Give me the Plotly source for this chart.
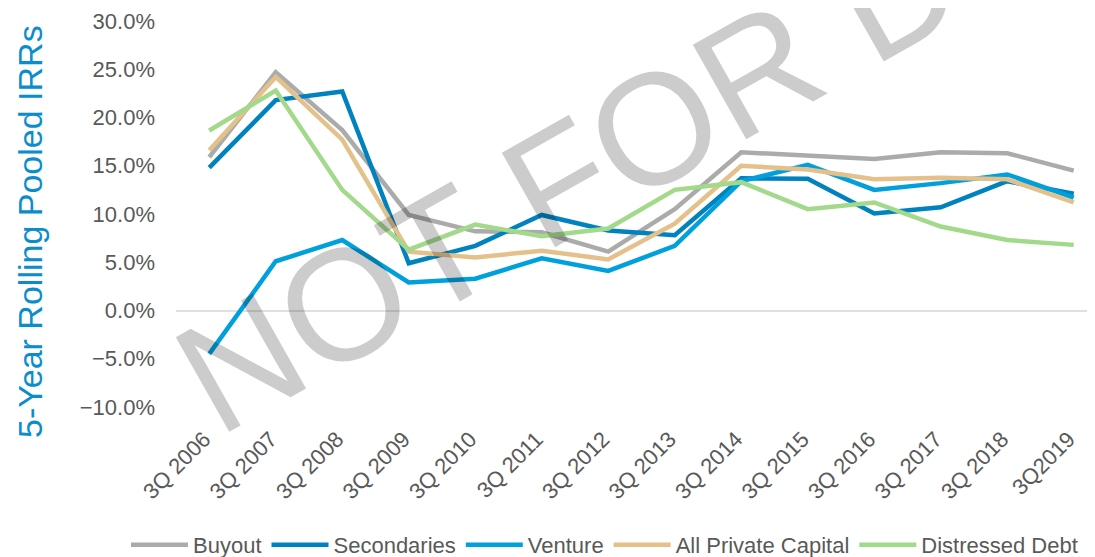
import plotly.graph_objects as go

categories = ["3Q 2006", "3Q 2007", "3Q 2008", "3Q 2009", "3Q 2010", "3Q 2011", "3Q 2012",
              "3Q 2013", "3Q 2014", "3Q 2015", "3Q 2016", "3Q 2017", "3Q 2018", "3Q2019"]

buyout = [15.9, 24.7, 18.7, 9.9, 8.2, 8.1, 6.1, 10.5, 16.4, 16.1, 15.7, 16.4, 16.3, 14.5]
secondaries = [14.8, 21.8, 22.7, 4.9, 6.7, 9.9, 8.3, 7.8, 13.7, 13.65, 10.05, 10.7, 13.4, 12.1]
venture = [-4.5, 5.1, 7.3, 2.9, 3.3, 5.4, 4.1, 6.7, 13.4, 15.1, 12.5, 13.2, 14.1, 11.7]
all_private_capital = [16.6, 24.2, 17.7, 6.1, 5.5, 6.2, 5.3, 9.0, 15.0, 14.6, 13.6, 13.75, 13.6, 11.2]
distressed_debt = [18.65, 22.8, 12.5, 6.3, 8.9, 7.7, 8.5, 12.5, 13.3, 10.5, 11.2, 8.7, 7.3, 6.8]

series = [
    ("Buyout", buyout, "#ABABAB"),
    ("Secondaries", secondaries, "#0082BF"),
    ("Venture", venture, "#00A0DD"),
    ("All Private Capital", all_private_capital, "#E4C08A"),
    ("Distressed Debt", distressed_debt, "#A2D98A"),
]

FONT = "Liberation Sans, Arial, sans-serif"
OFF = 8  # page body margin

fig = go.Figure()
for name, vals, color in series:
    fig.add_trace(go.Scatter(x=categories, y=vals, name=name, mode="lines",
                             line=dict(color=color, width=4.5)))

W, H = 1095 - OFF, 557 - OFF
L, T, B = 176 - OFF, 21 - OFF, 150
plot_w, plot_h = W - L, H - T - B
plot_bottom = H - B


def px_to_paper(px, py):
    return (px - OFF - L) / plot_w, (plot_bottom - (py - OFF)) / plot_h


# watermark
wx, wy = px_to_paper(1003, -69)
fig.add_annotation(text="NOT FOR DISTRIBUTION", xref="paper", yref="paper",
                   x=wx, y=wy, xanchor="center", yanchor="middle", showarrow=False,
                   textangle=-29.5,
                   font=dict(family=FONT, size=158, color="rgba(0,0,0,0.2)"))

# y-axis title
tx, ty = px_to_paper(30, 232)
fig.add_annotation(text="5-Year Rolling Pooled IRRs", xref="paper", yref="paper",
                   x=tx, y=ty, xanchor="center", yanchor="middle", showarrow=False,
                   textangle=-90,
                   font=dict(family=FONT, size=34, color="#0A8DCC"))

lx, ly = px_to_paper(126, 545)

fig.update_layout(
    width=W, height=H,
    margin=dict(l=L, r=0, t=T, b=B, autoexpand=False),
    paper_bgcolor="white", plot_bgcolor="white",
    font=dict(family=FONT, color="#595959", size=22),
    showlegend=True,
    legend=dict(orientation="h", xref="paper", yref="paper",
                x=lx, y=ly, xanchor="left", yanchor="middle",
                font=dict(size=22, color="#595959"), itemwidth=57,
                bgcolor="rgba(0,0,0,0)"),
    xaxis=dict(type="category", range=[-0.5, 13.32], showgrid=False, zeroline=False,
               showline=False, ticks="", tickangle=-45, ticklabelstandoff=14,
               ticklabelshift=-5,
               tickfont=dict(size=22, color="#595959")),
    yaxis=dict(range=[-10, 30], dtick=5, tick0=0, tickformat=".1f", ticksuffix="%",
               showgrid=False, zeroline=True, zerolinecolor="#E0E0E0", zerolinewidth=2,
               showline=False, ticks="", ticklabelstandoff=20,
               tickfont=dict(size=22, color="#595959")),
)

fig.write_html("out.html")
